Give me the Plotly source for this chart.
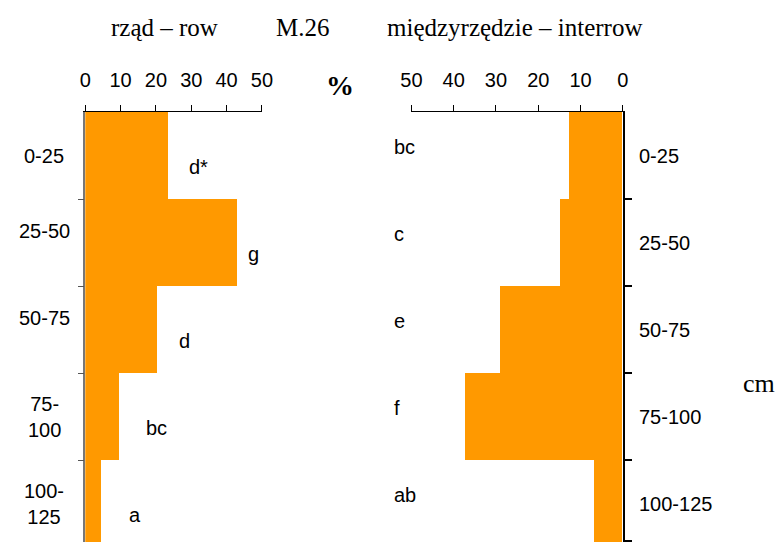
import plotly.graph_objects as go

# depth layers (cm)
depths_left = ["0-25", "25-50", "50-75", "75-<br>100", "100-<br>125"]
depths_right = ["0-25", "25-50", "50-75", "75-100", "100-125"]

# share of roots (%) in the row and in the interrow
row_pct = [23.6, 42.9, 20.4, 9.7, 4.6]
interrow_pct = [12.7, 14.8, 28.9, 37.2, 6.6]

# homogeneous groups
row_groups = ["d*", "g", "d", "bc", "a"]
interrow_groups = ["bc", "c", "e", "f", "ab"]

x_ticks = [0, 10, 20, 30, 40, 50]

ORANGE = "#FF9900"
SANS = "Liberation Sans, Arial, sans-serif"
SERIF = "Liberation Serif, Times New Roman, serif"
FS = 20
H = 542

# horizontal origin and width of the drawing area, px
X0, W = 8.4, 768.6


def fx(px):
    """Horizontal pixel position -> paper fraction."""
    return (px - X0) / W


def fy(py):
    """Vertical pixel position (from top) -> paper fraction."""
    return 1 - py / H


pos = list(range(len(row_pct)))
boundaries = [p + 0.5 for p in pos[:-1]]

fig = go.Figure()
fig.add_trace(go.Bar(
    y=pos, x=row_pct, orientation="h", width=1,
    marker=dict(color=ORANGE, line=dict(width=0)),
    xaxis="x", yaxis="y", showlegend=False, hoverinfo="x",
))
fig.add_trace(go.Bar(
    y=pos, x=interrow_pct, orientation="h", width=1,
    marker=dict(color=ORANGE, line=dict(width=0)),
    xaxis="x2", yaxis="y2", showlegend=False, hoverinfo="x",
))

y_range = [4.44, -0.5]
x_common = dict(
    side="top", tickvals=x_ticks, ticktext=[str(t) for t in x_ticks],
    ticks="outside", ticklen=6, tickcolor="black", tickwidth=1,
    showline=True, linecolor="black", linewidth=1,
    showgrid=False, zeroline=False,
    tickfont=dict(family=SANS, size=FS, color="black"),
    ticklabelstandoff=10,
)

fig.update_layout(
    width=784, height=H,
    margin=dict(l=0, r=0, t=0, b=0),
    paper_bgcolor="white", plot_bgcolor="white",
    bargap=0,
    xaxis=dict(domain=[fx(83.3), fx(261.5)], range=[0, 50],
               anchor="y", **x_common),
    xaxis2=dict(domain=[fx(412.3), fx(625.5)], range=[50, 0],
                anchor="y2", **x_common),
    yaxis=dict(domain=[0, fy(112)], range=y_range, anchor="x",
               tickvals=boundaries, showticklabels=False,
               ticks="outside", ticklen=6, tickcolor="#555555",
               showline=True, linecolor="#777777", linewidth=1.5,
               showgrid=False, zeroline=False),
    yaxis2=dict(domain=[0, fy(112)], range=y_range, anchor="x2",
                side="right", tickvals=boundaries + [4.43],
                showticklabels=False,
                ticks="outside", ticklen=7, tickcolor="black", tickwidth=1.5,
                showline=True, linecolor="black", linewidth=1.5,
                showgrid=False, zeroline=False),
)

ann = []
# depth labels, left side
left_shift = [0, 12, 12, 0, 0]
for p, lab, sh in zip(pos, depths_left, left_shift):
    ann.append(dict(x=fx(42), xref="paper", y=p, yref="y", text=lab,
                    showarrow=False, xanchor="center", yanchor="middle",
                    yshift=sh, align="center",
                    font=dict(family=SANS, size=FS, color="black")))
# depth labels, right side
for p, lab in zip(pos, depths_right):
    ann.append(dict(x=fx(640), xref="paper", y=p, yref="y2", text=lab,
                    showarrow=False, xanchor="left", yanchor="middle",
                    font=dict(family=SANS, size=FS, color="black")))
# group letters next to the row bars
letter_gap = [30, 17, 27, 37, 33]
for p, v, g, gap in zip(pos, row_pct, row_groups, letter_gap):
    ann.append(dict(x=v, xref="x", y=p, yref="y", text=g, showarrow=False,
                    xanchor="center", yanchor="middle", xshift=gap,
                    yshift=-11,
                    font=dict(family=SANS, size=FS, color="black")))
# group letters in the interrow panel
for p, g in zip(pos, interrow_groups):
    ann.append(dict(x=fx(393), xref="paper", y=p, yref="y2", text=g,
                    showarrow=False, xanchor="left", yanchor="middle",
                    yshift=9,
                    font=dict(family=SANS, size=FS, color="black")))

# headings
for txt, xc in [("rząd – row", 163.5), ("M.26", 302.5),
                ("międzyrzędzie – interrow", 516.5)]:
    ann.append(dict(x=fx(xc), xref="paper", y=fy(28), yref="paper",
                    text=txt, showarrow=False, xanchor="center",
                    yanchor="middle",
                    font=dict(family=SERIF, size=25, color="black")))
ann.append(dict(x=fx(340.5), xref="paper", y=fy(86), yref="paper",
                text="<b>%</b>", showarrow=False, xanchor="center",
                yanchor="middle",
                font=dict(family=SERIF, size=28, color="black")))
ann.append(dict(x=fx(763), xref="paper", y=fy(383), yref="paper",
                text="cm", showarrow=False, xanchor="center",
                yanchor="middle",
                font=dict(family=SERIF, size=26, color="black")))

fig.update_layout(annotations=ann)
fig.write_html("out.html")
